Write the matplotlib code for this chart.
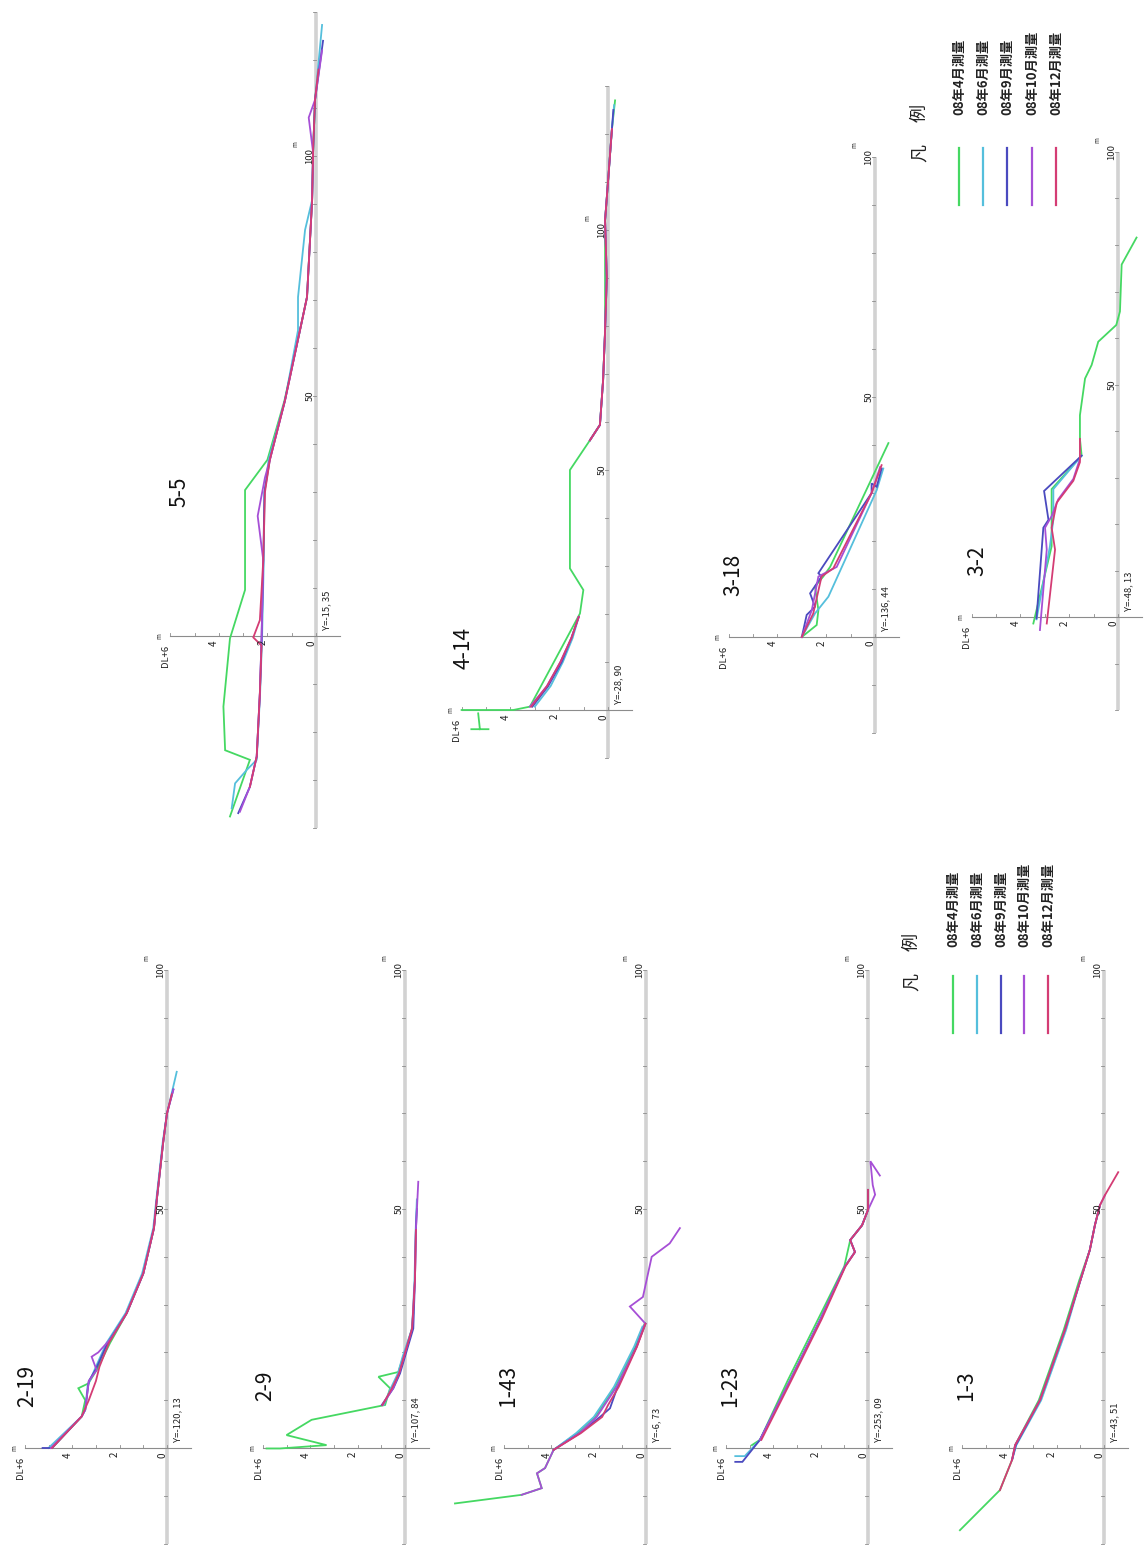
import numpy as np
import matplotlib
matplotlib.use("Agg")
import matplotlib.pyplot as plt
from matplotlib.lines import Line2D

plt.rcParams['font.family'] = ['Noto Sans CJK JP', 'DejaVu Sans']

W, H = 1147, 1552
nan = np.nan

SERIES = ["08年4月測量", "08年6月測量", "08年9月測量", "08年10月測量", "08年12月測量"]
COLORS = ["#45d862", "#55bfdc", "#4a4abf", "#a64fd6", "#d43c74"]

# ---------------- profile data: distance (m), elevation (DL+ m) ----------------
# 2-19
p219_g_d = [0.3, 6.6, 10, 12.5, 13.5, 16.3, 22, 28.2, 36.5, 46, 52, 64, 70]
p219_g_e = [4.8, 3.6, 3.45, 3.74, 3.32, 2.97, 2.4, 1.7, 1.0, 0.55, 0.43, 0.16, 0.0]
p219_c_d = [0, 6.6, 8, 13, 17, 22, 28.2, 36.5, 46, 52, 64, 70, 78.7]
p219_c_e = [5.0, 3.6, 3.45, 3.35, 3.0, 2.55, 1.75, 1.05, 0.58, 0.45, 0.18, 0.0, -0.41]
p219_b_d = [0, 0, 6.6, 8, 14, 16.5, 22, 28.2, 36.5, 46, 52, 64, 70, 75]
p219_b_e = [5.25, 4.85, 3.6, 3.45, 3.3, 3.0, 2.5, 1.7, 1.0, 0.55, 0.43, 0.16, 0.0, -0.27]
p219_p_d = [0, 6.6, 8, 14, 16.3, 19.1, 20, 23, 28.2, 36.5, 46, 52, 64, 70, 75]
p219_p_e = [4.9, 3.6, 3.45, 3.3, 2.97, 3.18, 2.9, 2.35, 1.7, 1.0, 0.55, 0.43, 0.16, 0.0, -0.27]
p219_r_d = [0, 6.6, 10, 14, 17, 22, 28.2, 36.5, 46, 52, 64, 70, 74]
p219_r_e = [4.85, 3.6, 3.3, 3.0, 2.85, 2.45, 1.7, 1.0, 0.55, 0.43, 0.16, 0.0, -0.2]

# 2-9
p29_g_d = [-0.1, -0.1, 0.6, 2.7, 5.9, 9.0, 12.5, 14.9, 15.9, 19.1, 24.7, 28.2]
p29_g_e = [5.84, 5.27, 3.31, 5.0, 3.94, 0.84, 0.63, 1.12, 0.28, 0.07, -0.28, -0.35]
p29_c_d = [9.0, 12.5, 15.6, 19.1, 25.0, 35.1, 45.6, 52]
p29_c_e = [0.9, 0.6, 0.3, 0.1, -0.3, -0.4, -0.45, -0.5]
p29_b_d = [9.0, 12.5, 15.6, 25.0, 35.1, 45.6, 50]
p29_b_e = [0.98, 0.49, 0.21, -0.35, -0.42, -0.46, -0.5]
p29_p_d = [9.0, 12.5, 15.6, 25.0, 35.1, 45.6, 55.7]
p29_p_e = [0.95, 0.5, 0.25, -0.3, -0.42, -0.46, -0.56]
p29_r_d = [9.0, 12.5, 15.6, 25.0, 35.1, 45.6]
p29_r_e = [0.95, 0.55, 0.25, -0.3, -0.42, -0.46]

# 1-43
p143_g_d = [-11.6, -9.8, -8.4, -5.3, -4.2, -0.4, 3.1, 6.5, 12.8, 21.2, 26.1]
p143_g_e = [8.06, 5.25, 4.4, 4.6, 4.26, 3.9, 2.9, 2.15, 1.3, 0.45, 0.05]
p143_c_d = [-0.4, 3.1, 6.5, 12.8, 21.2, 25.4]
p143_c_e = [3.9, 2.95, 2.2, 1.35, 0.5, 0.15]
p143_b_d = [-0.4, 3.1, 6.5, 8.3, 12.8, 21.2, 26]
p143_b_e = [3.9, 2.8, 1.94, 1.52, 1.2, 0.4, 0.02]
p143_p_d = [-9.8, -8.4, -5.3, -4.2, -0.4, 3.1, 6.5, 12.8, 21.2, 26.1, 29.6, 31.6, 40, 42.8, 46]
p143_p_e = [5.25, 4.4, 4.6, 4.26, 3.9, 2.8, 2.08, 1.24, 0.39, 0.04, 0.68, 0.13, -0.24, -1.0, -1.43]
p143_r_d = [-0.4, 3.1, 6.5, 9, 12.8, 21.2, 26]
p143_r_e = [3.9, 2.75, 1.85, 1.6, 1.15, 0.38, 0.02]

# 1-23
p123_g_d = [0.6, 1.7, 14, 27, 38, 43.5, 46.6, 49.8, 54]
p123_g_e = [4.9, 4.56, 3.4, 2.1, 1.0, 0.75, 0.25, 0.0, 0.0]
p123_c_d = [-1.7, -1.7, 1.7, 14, 27, 38, 41, 43.5, 46.6, 49.8, 54]
p123_c_e = [5.6, 5.2, 4.56, 3.3, 2.0, 0.97, 0.55, 0.75, 0.25, 0.0, 0.0]
p123_b_d = [-2.9, -2.9, 1.7, 14, 27, 38, 41, 43.5, 46.6, 49.8, 54]
p123_b_e = [5.6, 5.3, 4.56, 3.3, 2.0, 0.97, 0.55, 0.75, 0.25, 0.0, 0.0]
p123_p_d = [1.7, 14, 27, 38, 41, 43.5, 46.6, 49.8, 53, 55, 60, 57]
p123_p_e = [4.56, 3.3, 2.0, 0.97, 0.55, 0.75, 0.25, 0.0, -0.3, -0.2, -0.1, -0.5]
p123_r_d = [1.7, 14, 27, 38, 41, 43.5, 46.6, 49.8, 54]
p123_r_e = [4.5, 3.25, 1.95, 0.95, 0.55, 0.75, 0.25, 0.0, 0.0]

# 1-3
p13_g_d = [-17.2, -8.8, -2.5, 0.6, 10, 24.7, 35, 41.4, 46.7, 50.8]
p13_g_e = [6.08, 4.39, 3.88, 3.75, 2.75, 1.7, 1.05, 0.6, 0.38, 0.17]
p13_c_d = [-2.5, 0.6, 10, 24.7, 35, 41.4, 46.7, 50.8]
p13_c_e = [3.88, 3.7, 2.65, 1.6, 1.0, 0.6, 0.38, 0.17]
p13_b_d = [-2.5, 0.6, 10, 24.7, 35, 41.4, 46.7, 50.8]
p13_b_e = [3.88, 3.72, 2.7, 1.65, 1.0, 0.6, 0.38, 0.17]
p13_p_d = [-2.5, 0.6, 10, 24.7, 35, 41.4, 46.7, 50.8, 52.9]
p13_p_e = [3.88, 3.75, 2.7, 1.65, 1.0, 0.6, 0.38, 0.17, -0.04]
p13_r_d = [-8.8, -2.5, 0.6, 10, 24.7, 35, 41.4, 46.7, 50.8, 52.9, 57.7]
p13_r_e = [4.39, 3.88, 3.75, 2.7, 1.65, 1.0, 0.6, 0.38, 0.17, -0.04, -0.6]

# 5-5
p55_g_d = [-37.6, -25.8, -23.8, -14.7, -0.5, 9.6, 15.8, 30.4, 36.7, 49, 63.7, 70.6, 90.8, 100.8, 111.7, 118]
p55_g_e = [3.54, 2.72, 3.74, 3.81, 3.54, 2.92, 2.92, 2.92, 2.0, 1.3, 0.66, 0.37, 0.16, 0.12, 0.04, -0.1]
p55_c_d = [-35.9, -30.7, -27.9, -25.8, -11.9, -0.5, 15.8, 30, 36.7, 49, 63.7, 70.6, 84.6, 90.8, 100.8, 111.7, 127.3]
p55_c_e = [3.47, 3.33, 2.85, 2.44, 2.3, 2.22, 2.15, 2.12, 1.95, 1.28, 0.74, 0.74, 0.45, 0.16, 0.12, 0.04, -0.25]
p55_b_d = [-36.9, -31.4, -25.1, -11.9, -0.5, 15.8, 30, 36.7, 49, 63.7, 70.6, 90.8, 100.8, 111.7, 124]
p55_b_e = [3.2, 2.72, 2.44, 2.31, 2.24, 2.17, 2.12, 1.9, 1.28, 0.66, 0.37, 0.16, 0.12, 0.04, -0.29]
p55_p_d = [-36.6, -31.4, -25.1, -11.9, -0.5, 15.8, 25, 33, 36.7, 49, 63.7, 70.6, 90.8, 100.8, 108, 111.7, 122]
p55_p_e = [3.13, 2.72, 2.44, 2.31, 2.24, 2.17, 2.4, 2.1, 1.9, 1.28, 0.66, 0.37, 0.16, 0.12, 0.3, 0.04, -0.25]
p55_r_d = [-31.4, -25.1, -11.9, -2, -0.3, 3.3, 15.8, 30, 36.7, 49, 63.7, 70.6, 90.8, 100.8, 111.7, 118]
p55_r_e = [2.72, 2.44, 2.31, 2.24, 2.58, 2.31, 2.17, 2.1, 1.9, 1.28, 0.66, 0.37, 0.16, 0.12, 0.04, -0.1]

# 4-14
p414_g_d = [-0.7, -4.0, nan, -4.0, -4.0, nan, 0, 0, 0.7, 20.1, 25, 29.5, 47.9, 50, 56.2, 59.4, 68.8, 79, 102, 110, 121, 127]
p414_g_e = [5.32, 5.25, nan, 5.6, 4.9, nan, 6.0, 3.88, 3.2, 1.15, 1.01, 1.56, 1.56, 1.56, 0.74, 0.33, 0.2, 0.12, 0.12, 0.0, -0.16, -0.29]
p414_c_d = [0.7, 5, 10, 15, 19.4, nan, 56.2, 59.4, 68.8, 79, 90, 102, 110, 121, 126]
p414_c_e = [3.0, 2.35, 1.85, 1.45, 1.2, nan, 0.74, 0.33, 0.2, 0.12, 0.05, 0.12, 0.0, -0.16, -0.25]
p414_b_d = [0.7, 5, 10, 15, 19.4, nan, 56.2, 59.4, 68.8, 79, 90, 102, 110, 121, 125]
p414_b_e = [3.1, 2.45, 1.9, 1.5, 1.2, nan, 0.74, 0.33, 0.2, 0.12, 0.05, 0.12, 0.0, -0.16, -0.22]
p414_p_d = [0.7, 5, 10, 15, 19.4, nan, 56.2, 59.4, 68.8, 79, 90, 102, 110, 121]
p414_p_e = [3.2, 2.5, 1.95, 1.5, 1.2, nan, 0.74, 0.33, 0.2, 0.12, 0.05, 0.12, 0.0, -0.16]
p414_r_d = [0.7, 5, 10, 15, 19.4, nan, 56.2, 59.4, 68.8, 79, 90, 102, 110, 121]
p414_r_e = [3.15, 2.5, 1.95, 1.5, 1.2, nan, 0.74, 0.33, 0.2, 0.12, 0.05, 0.12, 0.0, -0.16]

# 3-18
p318_g_d = [0, 2.5, 5.6, 10.5, 12.6, 14.6, 40.4]
p318_g_e = [3.0, 2.39, 2.32, 2.46, 2.12, 1.84, -0.55]
p318_c_d = [0, 4.9, 8.4, 30.6, 35.1]
p318_c_e = [3.0, 2.46, 1.91, -0.07, -0.34]
p318_b_d = [0, 4.6, 6.3, 9.1, 12.6, 13.3, 30.0, 32.0, 31.3, 35.1]
p318_b_e = [3.0, 2.8, 2.46, 2.66, 2.19, 2.32, 0.14, 0.14, -0.07, -0.27]
p318_p_d = [0, 5.6, 12.6, 14.6, 30.0, 35.4]
p318_p_e = [3.0, 2.59, 2.32, 1.57, 0.14, -0.21]
p318_r_d = [0, 4.9, 12.6, 14.3, 30.0, 35.8]
p318_r_e = [3.0, 2.53, 2.19, 1.71, 0.14, -0.27]

# 3-2
p32_g_d = [-1.4, 15.2, 27.5, 34.7, 38.3, 43.4, 51.3, 54.2, 59.2, 62.8, 65.7, 75.8, 81.6]
p32_g_e = [3.47, 2.72, 2.72, 1.49, 1.56, 1.56, 1.35, 1.08, 0.81, 0.07, -0.08, -0.15, -0.76]
p32_c_d = [-0.5, 15.2, 20.9, 27.5, 34.7]
p32_c_e = [3.34, 2.79, 2.65, 2.65, 1.49]
p32_b_d = [-0.3, 19.2, 20.9, 27.1, 34.7]
p32_b_e = [3.34, 3.06, 2.85, 3.03, 1.49]
p32_p_d = [-2.8, 14.5, 19.2, 21.7, 25.3, 29.7, 34.0]
p32_p_e = [3.2, 2.92, 2.99, 2.72, 2.45, 1.83, 1.56]
p32_r_d = [-1.4, 14.5, 19.2, 24.6, 29.3, 33.3, 38.3]
p32_r_e = [2.92, 2.58, 2.72, 2.51, 1.83, 1.56, 1.56]

PANELS = [
    # name, Y label, profiles, origin px, scale px/m (elev, dist), distance axis range, title pos (d, e)
    ("2-19", "Y=-120, 13", [(p219_g_d, p219_g_e), (p219_c_d, p219_c_e), (p219_b_d, p219_b_e), (p219_p_d, p219_p_e), (p219_r_d, p219_r_e)], (167, 1448), (23.7, 4.78), (-20, 100), (13, 5.9)),
    ("2-9", "Y=-107, 84", [(p29_g_d, p29_g_e), (p29_c_d, p29_c_e), (p29_b_d, p29_b_e), (p29_p_d, p29_p_e), (p29_r_d, p29_r_e)], (405, 1448), (23.7, 4.78), (-20, 100), (13, 5.9)),
    ("1-43", "Y=-6, 73", [(p143_g_d, p143_g_e), (p143_c_d, p143_c_e), (p143_b_d, p143_b_e), (p143_p_d, p143_p_e), (p143_r_d, p143_r_e)], (646, 1448), (23.7, 4.78), (-20, 100), (13, 5.8)),
    ("1-23", "Y=-253, 09", [(p123_g_d, p123_g_e), (p123_c_d, p123_c_e), (p123_b_d, p123_b_e), (p123_p_d, p123_p_e), (p123_r_d, p123_r_e)], (868, 1448), (23.7, 4.78), (-20, 100), (13, 5.8)),
    ("1-3", "Y=-43, 51", [(p13_g_d, p13_g_e), (p13_c_d, p13_c_e), (p13_b_d, p13_b_e), (p13_p_d, p13_p_e), (p13_r_d, p13_r_e)], (1104, 1448), (23.7, 4.78), (-20, 100), (13, 5.8)),
    ("5-5", "Y=-15, 35", [(p55_g_d, p55_g_e), (p55_c_d, p55_c_e), (p55_b_d, p55_b_e), (p55_p_d, p55_p_e), (p55_r_d, p55_r_e)], (316, 636), (24.3, 4.8), (-40, 130), (30, 5.6)),
    ("4-14", "Y=-28, 90", [(p414_g_d, p414_g_e), (p414_c_d, p414_c_e), (p414_b_d, p414_b_e), (p414_p_d, p414_p_e), (p414_r_d, p414_r_e)], (608, 710), (24.4, 4.8), (-10, 130), (13, 5.9)),
    ("3-18", "Y=-136, 44", [(p318_g_d, p318_g_e), (p318_c_d, p318_c_e), (p318_b_d, p318_b_e), (p318_p_d, p318_p_e), (p318_r_d, p318_r_e)], (875, 637), (24.4, 4.8), (-20, 100), (13, 5.8)),
    ("3-2", "Y=-48, 13", [(p32_g_d, p32_g_e), (p32_c_d, p32_c_e), (p32_b_d, p32_b_e), (p32_p_d, p32_p_e), (p32_r_d, p32_r_e)], (1118, 617), (24.4, 4.65), (-20, 100), (12, 5.75)),
]

ELEV_TICKS = [0, 1, 2, 3, 4, 5, 6]
ELEV_LABELS = {0: "0", 2: "2", 4: "4", 6: "DL+6"}
DIST_LABELS = [50, 100]

fig = plt.figure(figsize=(W / 100, H / 100), dpi=100)
fig.patch.set_facecolor("white")

EMIN, EMAX = -3.0, 9.0

for name, ylab, profiles, (ox, oy), (sx, sy), (dlo, dhi), (td, te) in PANELS:
    dmin, dmax = dlo - 25, dhi + 10
    left = (ox - sx * EMAX) / W
    width = sx * (EMAX - EMIN) / W
    bottom = (H - oy + sy * dmin) / H
    height = sy * (dmax - dmin) / H
    ax = fig.add_axes([left, bottom, width, height])
    ax.set_xlim(EMAX, EMIN)
    ax.set_ylim(dmin, dmax)
    ax.axis("off")

    # distance axis (thick light grey)
    ax.plot([0, 0], [dlo, dhi], color="#d2d2d2", lw=2.6, solid_capstyle="butt", zorder=1)
    for t in range(dlo, dhi + 1, 10):
        ax.plot([0, 3.0 / sx], [t, t], color="#8c8c8c", lw=0.6, zorder=1.5)
    # elevation axis
    ax.plot([-1.0, 6.0], [0, 0], color="#8c8c8c", lw=0.8, zorder=1.5)
    for t in ELEV_TICKS:
        ax.plot([t, t], [0, 3.0 / sy], color="#8c8c8c", lw=0.6, zorder=1.5)

    # profiles
    for (d, e), col in zip(profiles, COLORS):
        ax.plot(e, d, color=col, lw=1.3, zorder=3, clip_on=False, solid_joinstyle="miter")

    # elevation tick labels
    for t, lab in ELEV_LABELS.items():
        if lab == "DL+6":
            ax.text(t + 0.2, -9.0 / sy, lab, rotation=90, ha="center", va="top", fontsize=6.8, color="#222222")
        else:
            ax.text(t + 0.2, -4.0 / sy, lab, rotation=90, ha="center", va="top", fontsize=7, color="#222222")
    ax.text(6.45, 0, "m", rotation=90, ha="center", va="center", fontsize=4.5, color="#222222")

    # distance labels
    for t in DIST_LABELS:
        ax.text(6.0 / sx, t, str(t), rotation=90, ha="center", va="center", fontsize=6.8, color="#222222")
    ax.text(21.0 / sx, 100 + 12.0 / sy, "m", rotation=90, ha="center", va="center", fontsize=4.5, color="#222222")

    # Y label
    ax.text(-11.0 / sx, 1.2, ylab, rotation=90, ha="center", va="bottom", fontsize=6.8, color="#222222")
    # title
    ax.text(te, td, name, rotation=90, ha="center", va="center", fontsize=15, color="#111111")

# legends
def legend(x_lines, y_top, y_bot, y_lab, x_title, y_fan, y_rei):
    for xl, col, lab in zip(x_lines, COLORS, SERIES):
        fig.add_artist(Line2D([xl / W, xl / W], [1 - y_top / H, 1 - y_bot / H], color=col, lw=1.6))
        fig.text(xl / W, 1 - y_lab / H, lab, rotation=90, ha="center", va="bottom", fontsize=9.5,
                 fontweight="bold", color="#222222")
    fig.text(x_title / W, 1 - y_fan / H, "凡", rotation=90, ha="center", va="center", fontsize=13, color="#222222")
    fig.text(x_title / W, 1 - y_rei / H, "例", rotation=90, ha="center", va="center", fontsize=13, color="#222222")

legend([959, 983, 1007, 1032, 1056], 148, 205, 115, 920, 153, 113)
legend([953, 977, 1001, 1024, 1048], 976, 1033, 947, 912, 982, 942)

fig.savefig("out.png", dpi=100, facecolor="white")
